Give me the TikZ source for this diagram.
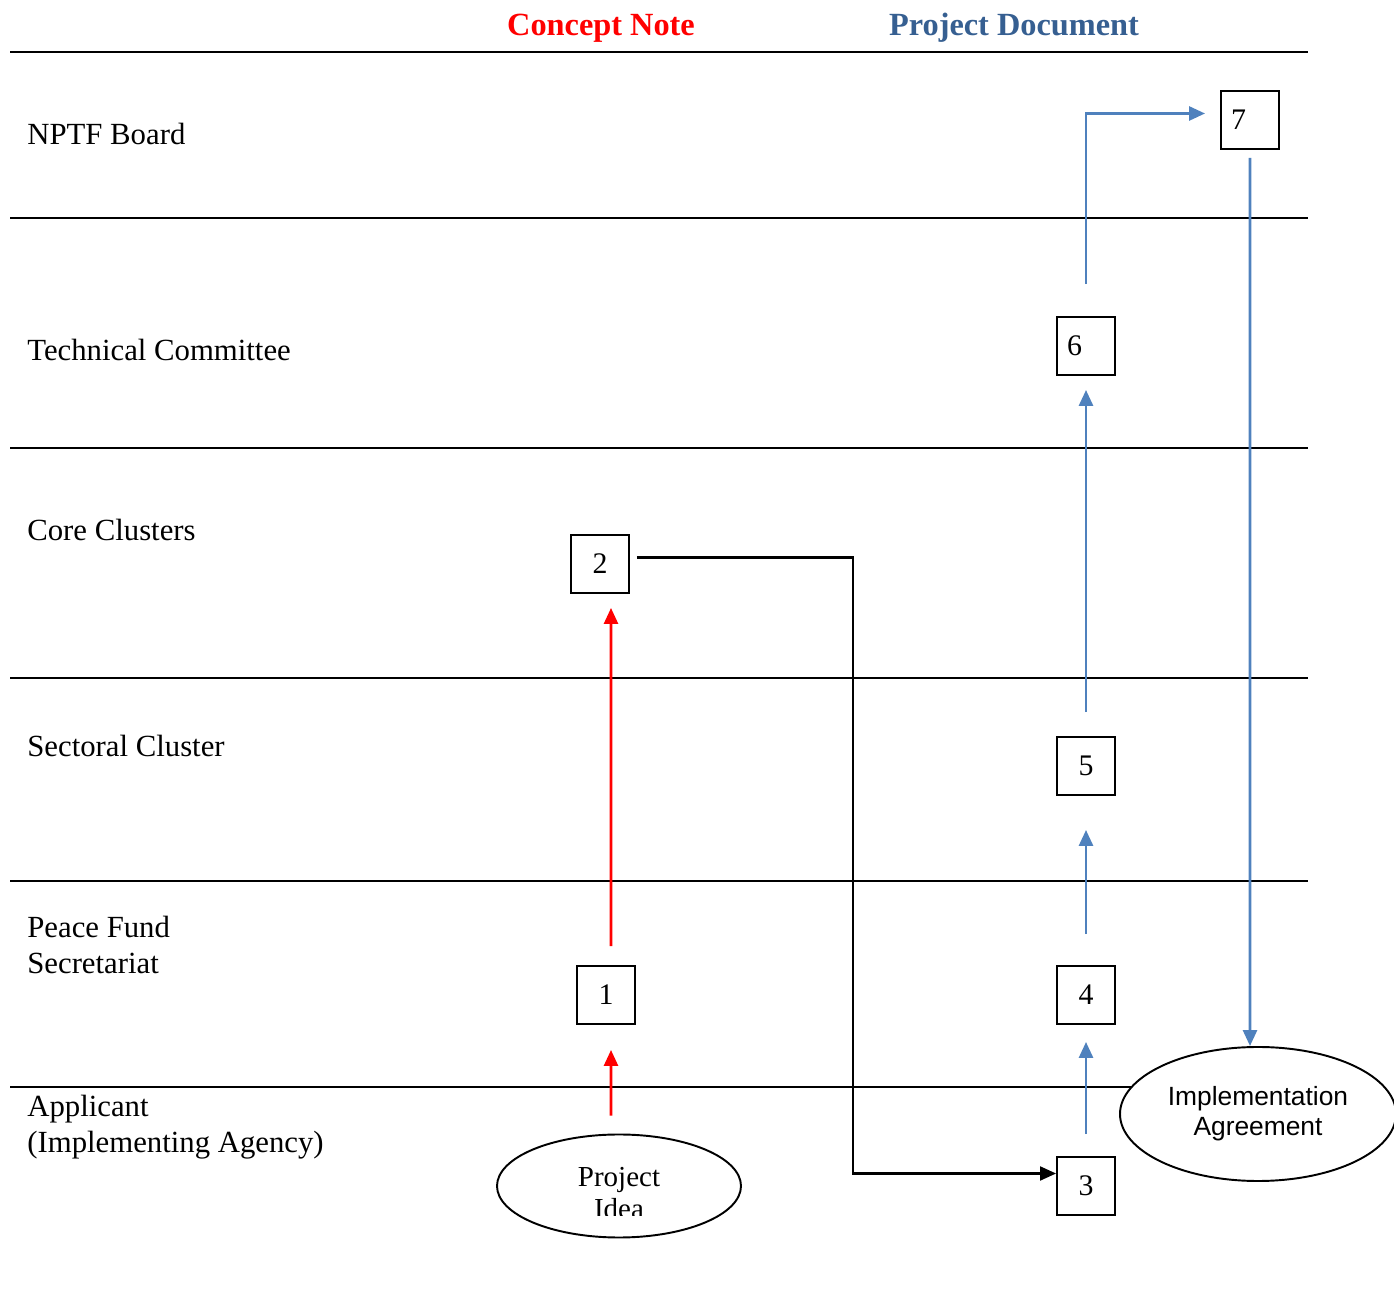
\documentclass[tikz,border=0pt]{standalone}
\usepackage{fontspec}
\setmainfont{Liberation Serif}
\newfontfamily\arialfont{Liberation Sans}
\usetikzlibrary{shapes.geometric,arrows.meta}
\definecolor{pdblue}{RGB}{54,95,145}
\definecolor{arrblue}{RGB}{79,129,189}

\begin{document}
\begin{tikzpicture}[x=0.2mm,y=0.2mm,
  lane/.style={anchor=west,inner sep=0pt,align=left,font=\fontsize{17.5}{20.5}\selectfont},
  head/.style={font=\bfseries\fontsize{18.4}{21}\selectfont},
  numbox/.style={draw,line width=1.1pt,minimum size=11.6mm,inner sep=0pt,font=\fontsize{17}{20}\selectfont},
  numboxl/.style={numbox,align=left,text width=7.6mm,inner xsep=2mm},
  oval/.style={draw,ellipse,line width=1.1pt,fill=white,inner sep=0pt},
  redarr/.style={red,line width=1.5pt,-{Triangle[length=3.2mm,width=2.8mm]}},
  bluearr/.style={arrblue,line width=1.6pt,-{Triangle[length=3.2mm,width=2.8mm]}},
  blackarr/.style={line width=1.2pt,-{Triangle[length=3.2mm,width=2.8mm]}}]
  \useasboundingbox (0,0) rectangle (1394,1306);

  % column heads
  \node[head,red] (cn) at (601,1278) {Concept Note};
  \node[head,pdblue] (pd) at (1014,1278) {Project Document};

  % lanes
  \draw[line width=1.6pt] (10,1254) -- (1308,1254);
  \foreach \y in {1088,858,628,425,219}
    \draw[line width=1.1pt] (10,\y) -- (1308,\y);

  \node[lane] (l1) at (27,1172) {NPTF Board};
  \node[lane] (l2) at (27,956) {Technical Committee};
  \node[lane] (l3) at (27,776) {Core Clusters};
  \node[lane] (l4) at (27,560) {Sectoral Cluster};
  \node[lane] (l5) at (27,361) {Peace Fund\\Secretariat};
  \node[lane] (l6) at (27,179) {Applicant\\(Implementing Agency)};

  % steps
  \node[numbox] (b1) at (606,311) {1};
  \node[numbox] (b2) at (600,742) {2};
  \node[numbox] (b3) at (1086,120) {3};
  \node[numbox] (b4) at (1086,311) {4};
  \node[numbox] (b5) at (1086,540) {5};
  \node[numboxl] (b6) at (1086,960) {6};
  \node[numboxl] (b7) at (1250,1186) {7};

  \node[oval,minimum width=48.8mm,minimum height=20.6mm] (pi) at (619,120) {};
  \begin{scope}
    \clip (540,90) rectangle (700,160);
    \node[align=center,font=\fontsize{16.5}{18}\selectfont] (pitext) at (619,113) {Project\\Idea};
  \end{scope}
  \node[oval,minimum width=55.2mm,minimum height=26.8mm,align=center,
        font=\arialfont\fontsize{15}{17}\selectfont] (ia) at (1258,192) {Implementation\\Agreement};

  % concept note
  \draw[redarr,shorten <=3.6mm,shorten >=5mm] ([xshift=-1.6mm]pi.north) -- ([xshift=1mm]b1.south);
  \draw[redarr,shorten <=3.8mm,shorten >=2.8mm] ([xshift=1mm]b1.north) -- ([xshift=2.2mm]b2.south);
  \draw[blackarr,shorten <=1.4mm] ([yshift=1.3mm]b2.east) -- ++(223,0) |- ([yshift=2.5mm]b3.west);

  % project document
  \draw[bluearr,shorten <=4.4mm,shorten >=3.4mm] (b3) -- (b4);
  \draw[bluearr,shorten <=6.2mm,shorten >=6.8mm] (b4) -- (b5);
  \draw[bluearr,shorten <=4.8mm,shorten >=2.8mm] (b5) -- (b6);
  \draw[bluearr,shorten <=6.4mm,shorten >=3mm] (b6.north) |- ([yshift=1.3mm]b7.west);
  \draw[bluearr,shorten <=1.6mm] (b7.south) -- ([xshift=-1.6mm]ia.north);
\end{tikzpicture}
\end{document}
